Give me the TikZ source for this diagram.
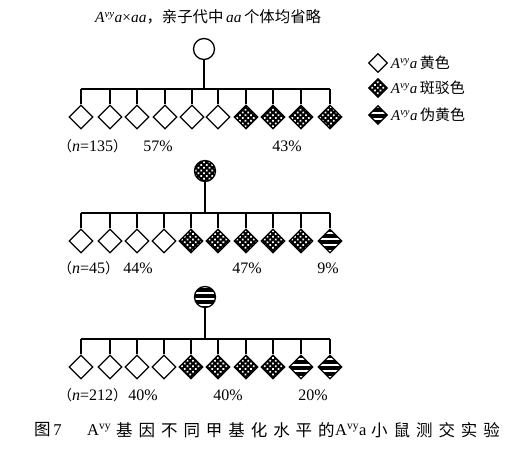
\documentclass[tikz,border=0pt]{standalone}
\usepackage{fontspec}
\setmainfont{Liberation Serif}
\newfontfamily\cjk{Noto Sans CJK SC}
\newfontfamily\cjkcap[LetterSpace=36]{Noto Sans CJK SC}
\newcommand{\Avy}{\textit{A}\textsuperscript{\textit{vy}}}
\usetikzlibrary{shapes.geometric,patterns.meta}
\tikzset{
  ln/.style={line width=1.3pt},
  dia/.style={diamond, draw, line width=1.3pt, inner sep=0pt, minimum size=24pt, fill=white},
  ldia/.style={dia, minimum size=19pt},
  spot/.style={preaction={fill=black}, pattern={Dots[radius=1.25pt, distance=3.9pt, angle=45]}, pattern color=white},
  pseudo/.style={preaction={fill=black}, pattern={Lines[angle=0, distance=6pt, line width=1.8pt]}, pattern color=white},
  par/.style={circle, draw, line width=1.3pt, inner sep=0pt, minimum size=21pt, fill=white},
  lab/.style={font=\fontsize{16}{18}\selectfont, inner sep=0pt},
  legt/.style={font=\fontsize{15}{17}\selectfont, inner sep=0pt, anchor=west},
  capt/.style={font=\fontsize{16.5}{19}\selectfont, inner sep=0pt, anchor=west},
}
\newcommand{\lp}{{\fontsize{14}{16}\selectfont\cjk（}}
\newcommand{\rp}{{\fontsize{14}{16}\selectfont\cjk）}}
\begin{document}
\begin{tikzpicture}[x=1pt,y=-1pt]
\useasboundingbox (0,0) rectangle (532,449);
% title
\node[inner sep=0pt, anchor=west, font=\fontsize{15.4}{17}\selectfont] (title) at (95,17) {\Avy\textit{a}×\textit{aa}\cjk，亲子代中\rmfamily\,\textit{aa}\,\cjk 个体均省略};
% legend
\node[ldia] (l1) at (378,63) {};
\node[ldia, spot] (l2) at (378,88) {};
\node[ldia, pseudo] (l3) at (378,115) {};
\node[legt] (lt1) at (l1.east) {\,\Avy\textit{a}\,\cjk 黄色};
\node[legt] (lt2) at (l2.east) {\,\Avy\textit{a}\,\cjk 斑驳色};
\node[legt] (lt3) at (l3.east) {\,\Avy\textit{a}\,\cjk 伪黄色};

% ---------- row 1
\node[par] (p1) at (204,49) {};
\coordinate (b1) at (204,89);
\foreach \x/\n/\s in {81/1/,110/2/,137/3/,165/4/,192/5/,218/6/,246/7/spot,273/8/spot,301/9/spot,330/10/spot}
  \node[dia,\s] (a\n) at (\x,117) {};
\draw[ln] (p1) -- (b1);
\draw[ln] (a1.north |- b1) -- (a10.north |- b1);
\foreach \n in {1,...,10} \draw[ln] (a\n.north) -- (a\n.north |- b1);
\node[lab, anchor=west] (n1) at (58,146) {\lp\textit{n}=135\rp};
\node[lab] (q11) at (158,146) {57\%};
\node[lab] (q12) at (287,146) {43\%};

% ---------- row 2
\node[par, spot] (p2) at (205,171) {};
\coordinate (b2) at (205,213);
\foreach \x/\n/\s in {81/1/,110/2/,137/3/,164/4/,191/5/spot,218/6/spot,246/7/spot,273/8/spot,301/9/spot,330/10/pseudo}
  \node[dia,\s] (c\n) at (\x,241) {};
\draw[ln] (p2) -- (b2);
\draw[ln] (c1.north |- b2) -- (c10.north |- b2);
\foreach \n in {1,...,10} \draw[ln] (c\n.north) -- (c\n.north |- b2);
\node[lab, anchor=west] (n2) at (58,268) {\lp\textit{n}=45\rp};
\node[lab] (q21) at (138,268) {44\%};
\node[lab] (q22) at (247,268) {47\%};
\node[lab] (q23) at (328,268) {9\%};

% ---------- row 3
\node[par, pseudo] (p3) at (205,297) {};
\coordinate (b3) at (205,339);
\foreach \x/\n/\s in {81/1/,110/2/,137/3/,164/4/,191/5/spot,218/6/spot,246/7/spot,273/8/spot,301/9/pseudo,330/10/pseudo}
  \node[dia,\s] (e\n) at (\x,367) {};
\draw[ln] (p3) -- (b3);
\draw[ln] (e1.north |- b3) -- (e10.north |- b3);
\foreach \n in {1,...,10} \draw[ln] (e\n.north) -- (e\n.north |- b3);
\node[lab, anchor=west] (n3) at (58,395) {\lp\textit{n}=212\rp};
\node[lab] (q31) at (143,395) {40\%};
\node[lab] (q32) at (228,395) {40\%};
\node[lab] (q33) at (313,395) {20\%};

% caption
\node[capt] (cap1) at (34,430) {\cjk 图\rmfamily\,7};
\node[capt] (cap2) at (87,430) {\rmfamily A\textsuperscript{vy}};
\node[capt] (cap3) at (116,430) {\cjkcap 基因不同甲基化水平的};
\node[capt] (cap4) at (335,430) {\rmfamily A\textsuperscript{vy}a};
\node[capt] (cap5) at (371,430) {\cjkcap 小鼠测交实验};
\end{tikzpicture}
\end{document}
